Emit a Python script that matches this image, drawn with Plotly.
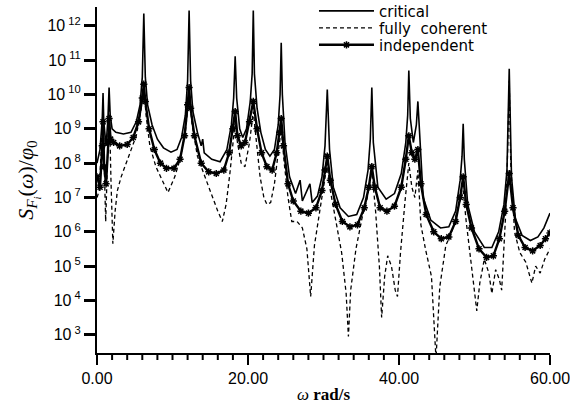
import math
import plotly.graph_objects as go

# frequency (rad/s) and spectral density S_F(w)/phi_0
crit_w = [0.0, 0.4, 0.7, 0.8, 0.9, 1.2, 1.45, 1.6, 1.75, 2.0, 2.5, 3.5, 4.5, 5.2, 5.7,
          6.0, 6.2, 6.4, 6.7, 7.3, 8.0, 8.8, 9.8, 10.6, 11.2, 11.7, 12.0, 12.2, 12.4,
          12.7, 13.3, 13.8, 14.0, 14.2, 15.2, 16.3, 17.2, 17.8, 18.1, 18.3, 18.5, 18.9,
          19.3, 19.8, 20.3, 20.55, 20.7, 20.85, 21.2, 21.7, 22.3, 22.9, 23.5, 24.0,
          24.25, 24.4, 24.55, 24.9, 25.5, 26.3, 26.9, 27.2, 28.2, 28.5, 29.2, 29.8,
          30.2, 30.5, 30.8, 31.3, 32.2, 33.3, 34.4, 35.3, 35.9, 36.2, 36.4, 36.6, 37.2,
          38.3, 39.4, 40.3, 40.9, 41.15, 41.3, 41.5, 41.9, 42.3, 42.5, 42.7, 43.2, 44.2,
          45.5, 46.6, 47.5, 48.1, 48.35, 48.5, 48.65, 49.1, 50.0, 51.3, 52.3, 53.2,
          53.9, 54.3, 54.6, 54.9, 55.4, 56.3, 57.4, 58.4, 59.2, 60.0]
crit_s = [1.0e8, 2.5e8, 2.0e9, 1.1e10, 1.6e9, 3.2e8, 2.0e9, 1.6e10, 2.5e9, 1.0e9, 7.9e8,
          7.1e8, 7.9e8, 1.6e9, 5.0e9, 3.2e10, 2.3e12, 3.2e10, 5.0e9, 1.3e9, 5.0e8, 2.8e8,
          2.1e8, 2.5e8, 5.6e8, 2.5e9, 2.5e10, 2.8e12, 2.5e10, 3.2e9, 7.9e8, 3.2e8, 5.0e8,
          2.0e8, 1.3e8, 1.1e8, 2.5e8, 1.3e9, 7.9e9, 1.3e11, 7.9e9, 1.0e9, 5.6e8, 1.0e9,
          6.3e9, 4.0e10, 2.8e12, 4.0e10, 4.0e9, 7.9e8, 2.5e8, 1.6e8, 2.5e8, 1.3e9, 1.0e10,
          3.2e11, 1.0e10, 4.0e8, 4.0e7, 1.3e7, 3.2e7, 7.9e6, 2.5e7, 7.1e6, 1.1e7, 4.0e7,
          3.2e8, 1.4e10, 2.5e8, 2.0e7, 5.0e6, 2.8e6, 3.2e6, 1.0e7, 6.3e7, 5.0e8, 1.6e10,
          4.0e8, 2.0e7, 8.9e6, 1.3e7, 5.0e7, 4.0e8, 2.5e9, 5.0e10, 2.0e9, 4.0e8, 1.3e9,
          6.3e9, 7.9e8, 1.0e7, 2.2e6, 1.3e6, 1.4e6, 4.0e6, 3.2e7, 1.6e8, 1.4e9, 1.3e8,
          6.3e6, 1.0e6, 3.5e5, 3.5e5, 1.0e6, 6.3e6, 6.3e7, 5.6e10, 4.0e7, 2.5e6, 7.9e5,
          5.6e5, 7.1e5, 1.3e6, 3.5e6]

coh_w = [0.0, 0.3, 0.6, 0.8, 1.0, 1.15, 1.3, 1.6, 1.85, 2.1, 2.4, 2.7, 3.2, 3.8, 4.5,
         5.2, 5.8, 6.2, 6.5, 7.0, 7.8, 8.6, 9.4, 10.3, 11.0, 11.7, 12.2, 12.6, 13.3,
         14.3, 15.3, 16.0, 16.6, 17.1, 17.6, 18.0, 18.3, 18.6, 19.1, 19.6, 20.2, 20.7,
         21.1, 21.6, 22.1, 22.5, 23.0, 23.5, 24.0, 24.4, 24.8, 25.3, 25.8, 26.5, 27.2,
         27.8, 28.3, 28.8, 29.5, 30.1, 30.5, 30.9, 31.6, 32.4, 33.0, 33.3, 33.6, 34.3,
         35.1, 35.8, 36.4, 36.9, 37.4, 37.7, 38.1, 38.5, 39.0, 39.5, 39.8, 40.2, 40.8,
         41.3, 41.7, 42.1, 42.5, 42.9, 43.5, 44.3, 44.9, 45.4, 46.2, 47.0, 47.8, 48.5,
         48.9, 49.5, 50.0, 50.3, 50.7, 51.3, 51.9, 52.3, 52.8, 53.3, 53.6, 54.1, 54.4,
         54.6, 54.8, 55.3, 56.0, 56.8, 57.6, 58.1, 58.7, 59.3, 60.0]
coh_s = [1.0e7, 1.6e7, 4.0e8, 5.0e9, 4.0e7, 2.0e6, 2.5e7, 7.9e9, 3.2e7, 4.5e5, 4.0e6,
         1.6e7, 4.0e7, 8.9e7, 2.5e8, 6.3e8, 3.2e9, 1.6e10, 2.5e9, 3.2e8, 7.9e7, 3.2e7,
         1.4e7, 4.0e7, 1.3e8, 7.9e8, 1.0e10, 1.3e9, 1.6e8, 4.0e7, 1.0e7, 4.0e6, 2.0e6,
         6.3e6, 5.0e7, 4.0e8, 1.6e9, 4.0e8, 1.0e8, 7.9e7, 4.0e8, 3.2e9, 4.0e8, 4.0e7,
         1.0e7, 6.3e6, 7.1e6, 2.5e7, 2.0e8, 1.0e9, 1.0e8, 1.0e7, 2.0e6, 2.0e6, 1.3e6,
         3.2e5, 1.3e4, 4.0e5, 4.0e6, 2.5e7, 1.0e8, 1.6e7, 2.0e6, 2.5e5, 1.6e4, 8.9e2,
         2.0e4, 3.2e5, 2.5e6, 1.0e7, 6.3e7, 4.0e6, 1.0e5, 3.2e3, 5.0e4, 2.0e5, 1.0e5,
         2.0e4, 1.3e4, 2.5e5, 7.9e6, 1.0e8, 2.0e7, 1.0e7, 6.3e7, 1.6e6, 3.2e5, 5.0e4,
         2.0e2, 2.5e4, 4.0e5, 1.0e6, 5.0e6, 1.6e7, 2.0e6, 1.6e5, 2.5e4, 5.0e3, 3.2e4,
         1.6e5, 6.3e4, 1.6e4, 7.9e4, 4.0e4, 2.0e4, 2.5e6, 2.5e8, 2.5e10, 1.0e8, 1.0e6,
         2.5e5, 1.3e5, 3.2e4, 1.0e5, 6.3e4, 1.6e5, 3.2e5]

ind_w = [0.0, 0.4, 0.7, 0.8, 0.95, 1.2, 1.5, 1.6, 1.8, 2.2, 3.0, 4.0, 4.8, 5.5, 6.0,
         6.2, 6.4, 6.9, 7.6, 8.4, 9.2, 10.2, 11.0, 11.6, 12.0, 12.2, 12.4, 12.9, 13.8,
         14.8, 15.8, 16.8, 17.5, 18.0, 18.3, 18.6, 19.1, 19.6, 20.2, 20.7, 21.2, 21.8,
         22.5, 23.2, 23.8, 24.2, 24.4, 24.7, 25.3, 26.0, 27.0, 28.0, 29.0, 29.8, 30.2,
         30.5, 30.9, 31.6, 32.5, 33.5, 34.5, 35.4, 36.0, 36.4, 36.8, 37.5, 38.4, 39.4,
         40.3, 40.9, 41.3, 41.7, 42.1, 42.5, 42.9, 43.6, 44.6, 45.6, 46.6, 47.5, 48.1,
         48.5, 48.9, 49.6, 50.6, 51.6, 52.5, 53.3, 54.0, 54.6, 55.1, 55.8, 56.7, 57.7,
         58.7, 59.4, 60.0]
ind_s = [4.0e7, 2.0e7, 3.2e8, 1.6e9, 7.9e7, 2.5e7, 4.0e8, 2.0e9, 5.0e8, 4.0e8, 3.2e8,
         3.5e8, 5.6e8, 1.6e9, 7.9e9, 2.0e10, 6.3e9, 1.0e9, 2.5e8, 1.0e8, 7.1e7, 7.1e7,
         1.3e8, 6.3e8, 5.0e9, 1.6e10, 4.0e9, 6.3e8, 1.0e8, 5.6e7, 5.0e7, 6.3e7, 2.0e8,
         1.0e9, 3.2e9, 6.3e8, 3.2e8, 4.0e8, 1.6e9, 6.3e9, 1.0e9, 2.0e8, 7.9e7, 6.3e7,
         2.0e8, 7.9e8, 2.0e9, 3.2e8, 2.5e7, 7.9e6, 4.0e6, 3.5e6, 5.0e6, 1.6e7, 6.3e7,
         1.6e8, 3.2e7, 6.3e6, 2.0e6, 1.4e6, 1.6e6, 5.0e6, 2.0e7, 7.9e7, 2.0e7, 5.0e6,
         4.0e6, 5.6e6, 2.0e7, 1.3e8, 6.3e8, 2.0e8, 1.3e8, 2.5e8, 2.5e7, 3.2e6, 1.0e6,
         6.3e5, 7.1e5, 2.0e6, 1.0e7, 4.0e7, 6.3e6, 1.3e6, 3.2e5, 1.8e5, 2.0e5, 6.3e5,
         4.0e6, 5.0e7, 5.0e6, 7.9e5, 3.5e5, 2.8e5, 4.0e5, 6.3e5, 9.3e5]

x_tickvals = [0, 20, 40, 60]
x_ticktext = ['0.00', '20.00', '40.00', '60.00']
y_tickvals = [1e3, 1e4, 1e5, 1e6, 1e7, 1e8, 1e9, 1e10, 1e11, 1e12]
y_ticktext = ['10<sup> 3</sup>', '10<sup> 4</sup>', '10<sup> 5</sup>', '10<sup> 6</sup>',
              '10<sup> 7</sup>', '10<sup> 8</sup>', '10<sup> 9</sup>', '10<sup> 10</sup>',
              '10<sup> 11</sup>', '10<sup> 12</sup>']
x_minor = [v for v in range(2, 60, 2) if v % 20 != 0]
y_minor = [m * 10 ** e for e in range(2, 13) for m in range(2, 10)
           if 3e2 <= m * 10 ** e <= 3e12]

fig = go.Figure()
fig.add_trace(go.Scatter(x=crit_w, y=crit_s, name='critical', mode='lines',
                         legend='legend',
                         line=dict(color='black', width=1.6)))
fig.add_trace(go.Scatter(x=coh_w, y=coh_s, name='fully  coherent', mode='lines',
                         legend='legend2',
                         line=dict(color='black', width=1.3, dash='4px,3px')))
fig.add_trace(go.Scatter(x=ind_w, y=ind_s, name='independent', mode='lines+markers',
                         legend='legend3',
                         line=dict(color='black', width=2.4),
                         marker=dict(symbol='asterisk-open', size=6, color='black',
                                     line=dict(color='black', width=1.5))))

# minor ticks as short line shapes just outside the axes
# (plot area is 453 px wide and 346 px tall)
minor_ticks = []
for v in y_minor:
    minor_ticks.append(dict(type='line', xref='paper', yref='y', layer='above',
                            x0=-7 / 453, x1=0, y0=math.log10(v), y1=math.log10(v),
                            line=dict(color='black', width=2)))
for v in x_minor:
    minor_ticks.append(dict(type='line', xref='x', yref='paper', layer='above',
                            x0=v, x1=v, y0=-7 / 346, y1=0,
                            line=dict(color='black', width=2)))

leg = dict(x=0.479, xanchor='left', yanchor='middle', bgcolor='rgba(0,0,0,0)',
           itemwidth=55, font=dict(family='DejaVu Sans, sans-serif', size=15))

fig.update_layout(
    width=570, height=406,
    margin=dict(l=97, r=20, t=7, b=53, autoexpand=False),
    plot_bgcolor='white', paper_bgcolor='white',
    font=dict(family='Liberation Sans, Arial, sans-serif', color='black', size=16),
    showlegend=True,
    legend=dict(leg, y=0.988),
    legend2=dict(leg, y=0.939),
    legend3=dict(leg, y=0.89),
    shapes=minor_ticks,
    xaxis=dict(
        range=[0, 60], showgrid=False, zeroline=False, automargin=False,
        showline=True, linecolor='black', linewidth=2,
        ticks='outside', ticklen=10, tickwidth=2, tickcolor='black',
        tickvals=x_tickvals, ticktext=x_ticktext, ticklabeloverflow='allow',
        title=dict(text='<i>ω</i> <b>rad/s</b>', standoff=2,
                   font=dict(family='Liberation Serif, serif', size=17)),
    ),
    yaxis=dict(
        type='log', range=[2.47, 12.55], showgrid=False, zeroline=False,
        automargin=False, showline=True, linecolor='black', linewidth=2,
        ticks='outside', ticklen=11, tickwidth=2.5, tickcolor='black',
        tickvals=y_tickvals, ticktext=y_ticktext,
        title=dict(text='<i>S</i><sub><i>F<sub>i</sub></i></sub>(<i>ω</i>)/<i>φ</i><sub>0</sub>',
                   standoff=8, font=dict(family='Liberation Serif, serif', size=22)),
    ),
)

fig.write_html("out.html", config={'displayModeBar': False},
               post_script="document.body.style.margin='0';")
